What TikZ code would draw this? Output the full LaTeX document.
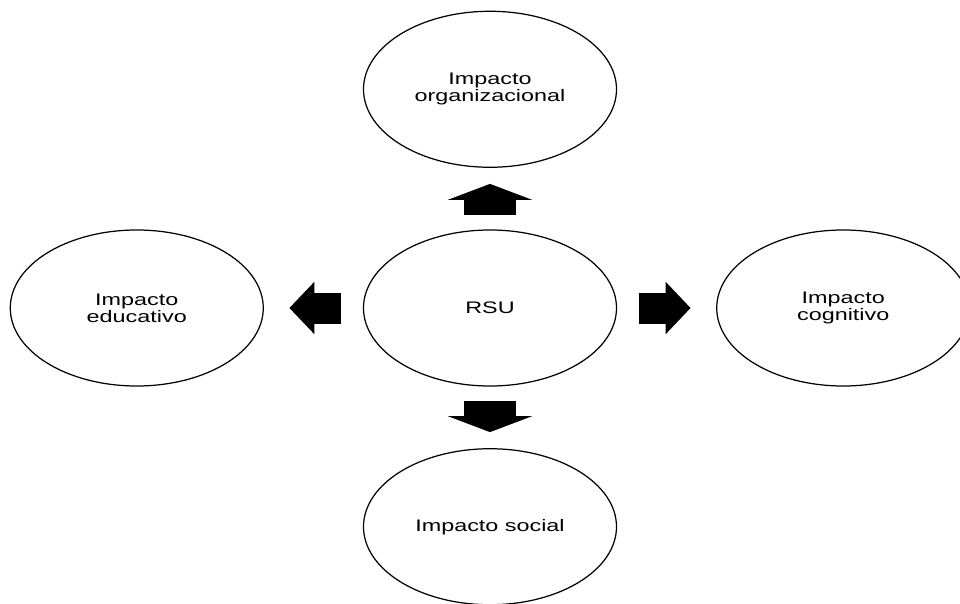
\documentclass[tikz,border=0pt]{standalone}
\usepackage{fontspec}
\newfontfamily\impactfont{Liberation Sans}[FakeStretch=1.4]
\usetikzlibrary{shapes}
\usetikzlibrary{positioning}
\usetikzlibrary{arrows.meta}

\begin{document}
\begin{tikzpicture}[
  node distance=1.23cm and 1.98cm
]
\tikzset{
    impactnode/.style = {ellipse, draw=black, line width=0.7pt, align=center,
      minimum width=5.06cm, minimum height=3.12cm, inner sep=0pt,
      font=\impactfont\fontsize{9.5}{9.6}\selectfont},
    blockv/.style = {line width=1.04cm, -{Triangle[width=1.68cm,length=0.32cm]},
      shorten <=0.28cm, shorten >=0.32cm},
    blockh/.style = {line width=0.62cm, -{Triangle[width=1.02cm,length=0.5cm]},
      shorten <=0.43cm, shorten >=0.51cm},
}
\useasboundingbox (-9.8,-5.9) rectangle (9.4,6.16);

\node (rsu) [impactnode] at (0,0) {RSU};
\node (org) [impactnode, above=of rsu] {Impacto\\organizacional};
\node (soc) [impactnode, below=of rsu] {Impacto social};
\node (edu) [impactnode, left=of rsu] {Impacto\\educativo};
\node (cog) [impactnode, right=of rsu] {Impacto\\cognitivo};

\draw[blockv] (rsu) -- (org);
\draw[blockv] (rsu) -- (soc);
\draw[blockh] (rsu) -- (edu);
\draw[blockh] (rsu) -- (cog);

\end{tikzpicture}
\end{document}
